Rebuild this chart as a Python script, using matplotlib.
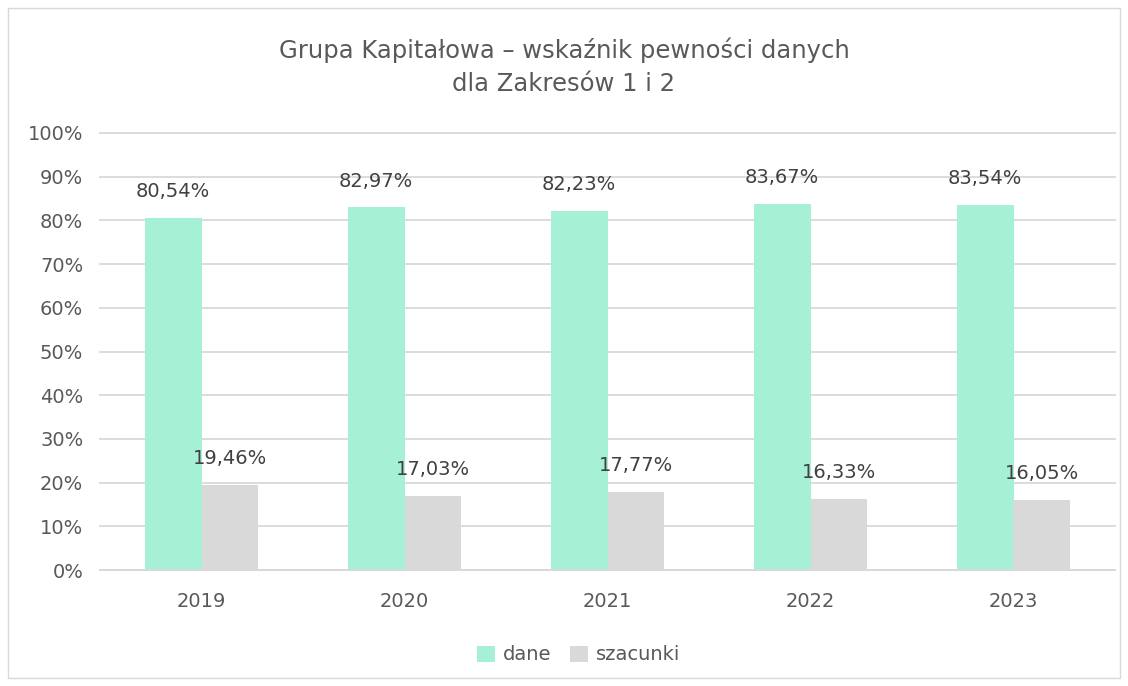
import numpy as np
from matplotlib import pyplot as plt
from matplotlib.patches import Rectangle
from matplotlib.ticker import PercentFormatter

years = ["2019", "2020", "2021", "2022", "2023"]
dane = [80.54, 82.97, 82.23, 83.67, 83.54]
szacunki = [19.46, 17.03, 17.77, 16.33, 16.05]

green = "#A6F1D6"
gray = "#D9D9D9"
text_col = "#595959"

plt.rcParams["font.family"] = "DejaVu Sans"

fig = plt.figure(figsize=(11.28, 6.86), dpi=100)
ax = fig.add_axes([100 / 1128, 1 - 570 / 686, 1015 / 1128, 437 / 686])

x = np.arange(len(years))
w = 0.28
b1 = ax.bar(x - w / 2, dane, w, color=green, label="dane", zorder=2)
b2 = ax.bar(x + w / 2, szacunki, w, color=gray, label="szacunki", zorder=2)

def fmt(v):
    return f"{v:.2f}%".replace(".", ",")

for rects, vals in ((b1, dane), (b2, szacunki)):
    for r, v in zip(rects, vals):
        ax.annotate(fmt(v), (r.get_x() + r.get_width() / 2, v),
                    xytext=(0, 19), textcoords="offset points",
                    ha="center", va="center", fontsize=14, color="#404040")

ax.set_xlim(-0.5, len(years) - 0.5)
ax.set_ylim(0, 100)
ax.set_yticks(np.arange(0, 101, 10))
ax.yaxis.set_major_formatter(PercentFormatter(decimals=0))
ax.set_xticks(x)
ax.set_xticklabels(years)
ax.grid(axis="y", color=gray, linewidth=1.3, zorder=0)
for line in ax.get_ygridlines():
    line.set_clip_on(False)
for s in ["top", "right", "left"]:
    ax.spines[s].set_visible(False)
ax.spines["bottom"].set_color(gray)
ax.spines["bottom"].set_linewidth(1.3)
ax.tick_params(axis="both", length=0, labelsize=14, colors=text_col, pad=12)
ax.tick_params(axis="x", pad=16)

fig.text(0.5, 1 - 67 / 686, "Grupa Kapitałowa – wskaźnik pewności danych\ndla Zakresów 1 i 2",
         ha="center", va="center", fontsize=17.5, color=text_col, linespacing=1.45)

fig.legend(handles=[b1, b2], loc="center", bbox_to_anchor=(0.513, 1 - 655 / 686),
           ncol=2, frameon=False, fontsize=14, labelcolor=text_col,
           handlelength=0.9, handleheight=0.9, handletextpad=0.4, columnspacing=1.0)

fig.patches.append(Rectangle((8 / 1128, 1 - 678 / 686), 1112 / 1128, 670 / 686,
                             transform=fig.transFigure, fill=False,
                             edgecolor=gray, linewidth=1))

fig.savefig("out.png", dpi=100, facecolor="white")
